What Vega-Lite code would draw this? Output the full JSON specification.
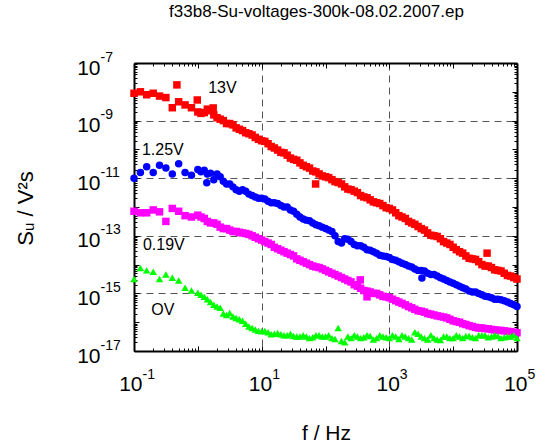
{
"$schema":"https://vega.github.io/schema/vega-lite/v6.json",
"width":383,"height":288,
"autosize":"none",
"padding":{"left":134,"top":63,"right":19,"bottom":91},
"background":"white",
"config":{"view":{"stroke":null},"font":"Liberation Sans","axis":{"labelFont":"Liberation Sans","titleFont":"Liberation Sans","labelColor":"black","titleColor":"black","domainColor":"black","tickColor":"black","titleFontWeight":"normal"}},
"title":{"text":"f33b8-Su-voltages-300k-08.02.2007.ep","fontSize":17,"font":"Liberation Sans","fontWeight":"normal","color":"black","anchor":"middle","frame":"group","dx":-9,"offset":16,"baseline":"alphabetic"},
"datasets":{
"lab":[{"f":1.45,"S":1.35e-8,"t":"13V"},{"f":0.133,"S":9.5e-11,"t":"1.25V"},{"f":0.138,"S":4.8e-14,"t":"0.19V"},{"f":0.186,"S":2.6e-16,"t":"OV"}],
"pts":[
{"f":0.1,"S":8.9e-9,"v":"13V"},{"f":0.126,"S":1e-8,"v":"13V"},{"f":0.158,"S":7.9e-9,"v":"13V"},{"f":0.2,"S":8.9e-9,"v":"13V"},{"f":0.251,"S":7.1e-9,"v":"13V"},{"f":0.316,"S":6.3e-9,"v":"13V"},{"f":0.398,"S":2.8e-9,"v":"13V"},{"f":0.501,"S":4.5e-9,"v":"13V"},{"f":0.631,"S":3.5e-9,"v":"13V"},{"f":0.794,"S":2.8e-9,"v":"13V"},
{"f":1,"S":2.0e-9,"v":"13V"},{"f":1.26,"S":1.9e-9,"v":"13V"},{"f":1.58,"S":2.2e-9,"v":"13V"},{"f":2,"S":1.26e-9,"v":"13V"},{"f":2.51,"S":1e-9,"v":"13V"},{"f":3.16,"S":7.9e-10,"v":"13V"},{"f":3.98,"S":5.6e-10,"v":"13V"},{"f":5.01,"S":4.5e-10,"v":"13V"},{"f":6.31,"S":3.5e-10,"v":"13V"},{"f":7.94,"S":2.6e-10,"v":"13V"},
{"f":10,"S":2.0e-10,"v":"13V"},{"f":12.6,"S":1.58e-10,"v":"13V"},{"f":15.8,"S":1.12e-10,"v":"13V"},{"f":20,"S":7.9e-11,"v":"13V"},{"f":25.1,"S":6.3e-11,"v":"13V"},{"f":31.6,"S":4.5e-11,"v":"13V"},{"f":39.8,"S":3.4e-11,"v":"13V"},{"f":50.1,"S":2.5e-11,"v":"13V"},{"f":63.1,"S":1.78e-11,"v":"13V"},{"f":79.4,"S":1.41e-11,"v":"13V"},
{"f":100,"S":1.12e-11,"v":"13V"},{"f":126,"S":8.9e-12,"v":"13V"},{"f":158,"S":7.1e-12,"v":"13V"},{"f":200,"S":5.0e-12,"v":"13V"},{"f":251,"S":4.0e-12,"v":"13V"},{"f":316,"S":3.16e-12,"v":"13V"},{"f":398,"S":2.24e-12,"v":"13V"},{"f":501,"S":1.78e-12,"v":"13V"},{"f":631,"S":1.41e-12,"v":"13V"},{"f":794,"S":1.12e-12,"v":"13V"},
{"f":1000,"S":8.9e-13,"v":"13V"},{"f":1260,"S":6.3e-13,"v":"13V"},{"f":1580,"S":4.5e-13,"v":"13V"},{"f":2000,"S":3.16e-13,"v":"13V"},{"f":2510,"S":2.5e-13,"v":"13V"},{"f":3160,"S":1.78e-13,"v":"13V"},{"f":3980,"S":1.26e-13,"v":"13V"},{"f":5010,"S":1e-13,"v":"13V"},{"f":6310,"S":7.9e-14,"v":"13V"},{"f":7940,"S":5.6e-14,"v":"13V"},
{"f":10000,"S":4.0e-14,"v":"13V"},{"f":12600,"S":2.8e-14,"v":"13V"},{"f":15800,"S":2.0e-14,"v":"13V"},{"f":20000,"S":1.58e-14,"v":"13V"},{"f":25100,"S":1.26e-14,"v":"13V"},{"f":31600,"S":8.9e-15,"v":"13V"},{"f":39800,"S":7.9e-15,"v":"13V"},{"f":50100,"S":6.3e-15,"v":"13V"},{"f":63100,"S":5.0e-15,"v":"13V"},{"f":79400,"S":4.0e-15,"v":"13V"},{"f":100000,"S":3.16e-15,"v":"13V"},
{"f":0.47,"S":1.74e-8,"v":"13V"},{"f":0.98,"S":5.2e-9,"v":"13V"},{"f":1.74,"S":2.75e-9,"v":"13V"},{"f":70,"S":6.3e-12,"v":"13V"},{"f":34000,"S":2.5e-14,"v":"13V"},
{"f":1.12,"S":1.78e-9,"v":"13V"},{"f":1.41,"S":2.5e-9,"v":"13V"},{"f":1.78,"S":1.58e-9,"v":"13V"},{"f":2.24,"S":1.12e-9,"v":"13V"},{"f":2.82,"S":7.9e-10,"v":"13V"},{"f":3.55,"S":7.1e-10,"v":"13V"},{"f":4.47,"S":5.0e-10,"v":"13V"},{"f":5.62,"S":3.8e-10,"v":"13V"},{"f":7.08,"S":3.16e-10,"v":"13V"},{"f":8.91,"S":2.24e-10,"v":"13V"},
{"f":11.2,"S":1.9e-10,"v":"13V"},{"f":14.1,"S":1.26e-10,"v":"13V"},{"f":17.8,"S":9.5e-11,"v":"13V"},{"f":22.4,"S":7.6e-11,"v":"13V"},{"f":28.2,"S":5.0e-11,"v":"13V"},{"f":35.5,"S":4.2e-11,"v":"13V"},{"f":44.7,"S":2.8e-11,"v":"13V"},{"f":56.2,"S":2.24e-11,"v":"13V"},{"f":70.8,"S":1.66e-11,"v":"13V"},{"f":89.1,"S":1.2e-11,"v":"13V"},
{"f":112,"S":1.05e-11,"v":"13V"},{"f":141,"S":7.6e-12,"v":"13V"},{"f":178,"S":6.3e-12,"v":"13V"},{"f":224,"S":4.2e-12,"v":"13V"},{"f":282,"S":3.55e-12,"v":"13V"},{"f":355,"S":2.5e-12,"v":"13V"},{"f":447,"S":2.1e-12,"v":"13V"},{"f":562,"S":1.51e-12,"v":"13V"},{"f":708,"S":1.32e-12,"v":"13V"},{"f":891,"S":9.5e-13,"v":"13V"},
{"f":1120,"S":7.9e-13,"v":"13V"},{"f":1410,"S":5.0e-13,"v":"13V"},{"f":1780,"S":4.0e-13,"v":"13V"},{"f":2240,"S":2.8e-13,"v":"13V"},{"f":2820,"S":2.1e-13,"v":"13V"},{"f":3550,"S":1.58e-13,"v":"13V"},{"f":4470,"S":1.05e-13,"v":"13V"},{"f":5620,"S":9.5e-14,"v":"13V"},{"f":7080,"S":6.3e-14,"v":"13V"},{"f":8910,"S":5.0e-14,"v":"13V"},
{"f":11200,"S":3.3e-14,"v":"13V"},{"f":14100,"S":2.5e-14,"v":"13V"},{"f":17800,"S":1.66e-14,"v":"13V"},{"f":22400,"S":1.51e-14,"v":"13V"},{"f":28200,"S":1e-14,"v":"13V"},{"f":35500,"S":8.9e-15,"v":"13V"},{"f":44700,"S":6.6e-15,"v":"13V"},{"f":56200,"S":6.0e-15,"v":"13V"},{"f":70800,"S":4.2e-15,"v":"13V"},{"f":89100,"S":3.55e-15,"v":"13V"},
{"f":0.1,"S":1e-11,"v":"1.25V"},{"f":0.126,"S":1.58e-11,"v":"1.25V"},{"f":0.158,"S":2.5e-11,"v":"1.25V"},{"f":0.2,"S":1.58e-11,"v":"1.25V"},{"f":0.251,"S":2.8e-11,"v":"1.25V"},{"f":0.316,"S":2.24e-11,"v":"1.25V"},{"f":0.398,"S":1.41e-11,"v":"1.25V"},{"f":0.501,"S":3.16e-11,"v":"1.25V"},{"f":0.631,"S":1.58e-11,"v":"1.25V"},{"f":0.794,"S":1.26e-11,"v":"1.25V"},
{"f":1,"S":2.0e-11,"v":"1.25V"},{"f":1.26,"S":1.9e-11,"v":"1.25V"},{"f":1.38,"S":6.9e-12,"v":"1.25V"},{"f":1.58,"S":1.5e-11,"v":"1.25V"},{"f":2,"S":1.41e-11,"v":"1.25V"},{"f":2.51,"S":7.9e-12,"v":"1.25V"},{"f":3.16,"S":6.3e-12,"v":"1.25V"},{"f":3.98,"S":4.0e-12,"v":"1.25V"},{"f":5.01,"S":4.0e-12,"v":"1.25V"},{"f":6.31,"S":2.8e-12,"v":"1.25V"},{"f":7.94,"S":2.24e-12,"v":"1.25V"},
{"f":10,"S":2.0e-12,"v":"1.25V"},{"f":12.6,"S":1.58e-12,"v":"1.25V"},{"f":15.8,"S":1.41e-12,"v":"1.25V"},{"f":20,"S":1.12e-12,"v":"1.25V"},{"f":25.1,"S":1e-12,"v":"1.25V"},{"f":31.6,"S":7.1e-13,"v":"1.25V"},{"f":39.8,"S":4.5e-13,"v":"1.25V"},{"f":50.1,"S":3.5e-13,"v":"1.25V"},{"f":63.1,"S":2.8e-13,"v":"1.25V"},{"f":79.4,"S":2.24e-13,"v":"1.25V"},
{"f":100,"S":1.78e-13,"v":"1.25V"},{"f":126,"S":1.41e-13,"v":"1.25V"},{"f":158,"S":6.3e-14,"v":"1.25V"},{"f":200,"S":7.9e-14,"v":"1.25V"},{"f":251,"S":6.3e-14,"v":"1.25V"},{"f":316,"S":4.5e-14,"v":"1.25V"},{"f":398,"S":4.0e-14,"v":"1.25V"},{"f":501,"S":3.16e-14,"v":"1.25V"},{"f":631,"S":2.5e-14,"v":"1.25V"},{"f":794,"S":2.0e-14,"v":"1.25V"},
{"f":1000,"S":1.78e-14,"v":"1.25V"},{"f":1260,"S":1.41e-14,"v":"1.25V"},{"f":1580,"S":1.12e-14,"v":"1.25V"},{"f":2000,"S":8.9e-15,"v":"1.25V"},{"f":2510,"S":7.1e-15,"v":"1.25V"},{"f":3160,"S":6.3e-15,"v":"1.25V"},{"f":3240,"S":3.4e-15,"v":"1.25V"},{"f":3980,"S":5.0e-15,"v":"1.25V"},{"f":5010,"S":4.5e-15,"v":"1.25V"},{"f":6310,"S":3.5e-15,"v":"1.25V"},{"f":7940,"S":2.8e-15,"v":"1.25V"},
{"f":10000,"S":2.24e-15,"v":"1.25V"},{"f":12600,"S":1.78e-15,"v":"1.25V"},{"f":15800,"S":1.41e-15,"v":"1.25V"},{"f":20000,"S":1.12e-15,"v":"1.25V"},{"f":25100,"S":1e-15,"v":"1.25V"},{"f":31600,"S":7.9e-16,"v":"1.25V"},{"f":39800,"S":7.1e-16,"v":"1.25V"},{"f":50100,"S":6.3e-16,"v":"1.25V"},{"f":63100,"S":5.6e-16,"v":"1.25V"},{"f":79400,"S":4.5e-16,"v":"1.25V"},{"f":100000,"S":3.5e-16,"v":"1.25V"},
{"f":1.12,"S":1.66e-11,"v":"1.25V"},{"f":1.41,"S":1.41e-11,"v":"1.25V"},{"f":1.78,"S":8.9e-12,"v":"1.25V"},{"f":2.24,"S":1.12e-11,"v":"1.25V"},{"f":2.82,"S":6.3e-12,"v":"1.25V"},{"f":3.55,"S":5.0e-12,"v":"1.25V"},{"f":4.47,"S":3.55e-12,"v":"1.25V"},{"f":5.62,"S":3.55e-12,"v":"1.25V"},{"f":7.08,"S":2.5e-12,"v":"1.25V"},{"f":8.91,"S":2.0e-12,"v":"1.25V"},
{"f":11.2,"S":1.9e-12,"v":"1.25V"},{"f":14.1,"S":1.41e-12,"v":"1.25V"},{"f":17.8,"S":1.32e-12,"v":"1.25V"},{"f":22.4,"S":1e-12,"v":"1.25V"},{"f":28.2,"S":7.9e-13,"v":"1.25V"},{"f":35.5,"S":5.6e-13,"v":"1.25V"},{"f":44.7,"S":3.8e-13,"v":"1.25V"},{"f":56.2,"S":3.3e-13,"v":"1.25V"},{"f":70.8,"S":2.4e-13,"v":"1.25V"},{"f":89.1,"S":2.0e-13,"v":"1.25V"},
{"f":112,"S":1.58e-13,"v":"1.25V"},{"f":141,"S":1e-13,"v":"1.25V"},{"f":178,"S":5.6e-14,"v":"1.25V"},{"f":224,"S":7.6e-14,"v":"1.25V"},{"f":282,"S":5.0e-14,"v":"1.25V"},{"f":355,"S":4.5e-14,"v":"1.25V"},{"f":447,"S":3.3e-14,"v":"1.25V"},{"f":562,"S":2.8e-14,"v":"1.25V"},{"f":708,"S":2.1e-14,"v":"1.25V"},{"f":891,"S":1.9e-14,"v":"1.25V"},
{"f":1120,"S":1.51e-14,"v":"1.25V"},{"f":1410,"S":1.26e-14,"v":"1.25V"},{"f":1780,"S":1e-14,"v":"1.25V"},{"f":2240,"S":8.3e-15,"v":"1.25V"},{"f":2820,"S":6.3e-15,"v":"1.25V"},{"f":3550,"S":6.0e-15,"v":"1.25V"},{"f":4470,"S":4.5e-15,"v":"1.25V"},{"f":5620,"S":4.0e-15,"v":"1.25V"},{"f":7080,"S":3.16e-15,"v":"1.25V"},{"f":8910,"S":2.5e-15,"v":"1.25V"},
{"f":11200,"S":2.0e-15,"v":"1.25V"},{"f":14100,"S":1.58e-15,"v":"1.25V"},{"f":17800,"S":1.2e-15,"v":"1.25V"},{"f":22400,"S":1.12e-15,"v":"1.25V"},{"f":28200,"S":8.9e-16,"v":"1.25V"},{"f":35500,"S":7.6e-16,"v":"1.25V"},{"f":44700,"S":6.3e-16,"v":"1.25V"},{"f":56200,"S":6.0e-16,"v":"1.25V"},{"f":70800,"S":5.0e-16,"v":"1.25V"},{"f":89100,"S":4.0e-16,"v":"1.25V"},
{"f":0.1,"S":7.1e-13,"v":"0.19V"},{"f":0.126,"S":6.3e-13,"v":"0.19V"},{"f":0.158,"S":6.3e-13,"v":"0.19V"},{"f":0.2,"S":7.9e-13,"v":"0.19V"},{"f":0.251,"S":6.8e-13,"v":"0.19V"},{"f":0.316,"S":3.16e-13,"v":"0.19V"},{"f":0.398,"S":8.9e-13,"v":"0.19V"},{"f":0.501,"S":7.1e-13,"v":"0.19V"},{"f":0.631,"S":5.0e-13,"v":"0.19V"},{"f":0.794,"S":4.5e-13,"v":"0.19V"},
{"f":1,"S":5.2e-13,"v":"0.19V"},{"f":1.26,"S":4.0e-13,"v":"0.19V"},{"f":1.58,"S":2.8e-13,"v":"0.19V"},{"f":2,"S":2.5e-13,"v":"0.19V"},{"f":2.51,"S":1.78e-13,"v":"0.19V"},{"f":3.16,"S":1.58e-13,"v":"0.19V"},{"f":3.98,"S":1.41e-13,"v":"0.19V"},{"f":5.01,"S":1.26e-13,"v":"0.19V"},{"f":6.31,"S":1.12e-13,"v":"0.19V"},{"f":7.94,"S":8.9e-14,"v":"0.19V"},
{"f":10,"S":7.1e-14,"v":"0.19V"},{"f":12.6,"S":5.6e-14,"v":"0.19V"},{"f":15.8,"S":4.0e-14,"v":"0.19V"},{"f":20,"S":3.16e-14,"v":"0.19V"},{"f":25.1,"S":2.5e-14,"v":"0.19V"},{"f":31.6,"S":2.0e-14,"v":"0.19V"},{"f":39.8,"S":1.41e-14,"v":"0.19V"},{"f":50.1,"S":1.12e-14,"v":"0.19V"},{"f":63.1,"S":8.9e-15,"v":"0.19V"},{"f":79.4,"S":7.9e-15,"v":"0.19V"},
{"f":100,"S":6.3e-15,"v":"0.19V"},{"f":126,"S":5.0e-15,"v":"0.19V"},{"f":158,"S":4.0e-15,"v":"0.19V"},{"f":200,"S":3.16e-15,"v":"0.19V"},{"f":251,"S":2.5e-15,"v":"0.19V"},{"f":316,"S":1.78e-15,"v":"0.19V"},{"f":350,"S":2.95e-15,"v":"0.19V"},{"f":398,"S":1.26e-15,"v":"0.19V"},{"f":447,"S":7.6e-16,"v":"0.19V"},{"f":501,"S":1.12e-15,"v":"0.19V"},{"f":631,"S":1e-15,"v":"0.19V"},{"f":794,"S":7.9e-16,"v":"0.19V"},
{"f":1000,"S":7.1e-16,"v":"0.19V"},{"f":1260,"S":5.6e-16,"v":"0.19V"},{"f":1580,"S":4.5e-16,"v":"0.19V"},{"f":2000,"S":3.5e-16,"v":"0.19V"},{"f":2510,"S":2.8e-16,"v":"0.19V"},{"f":3160,"S":2.4e-16,"v":"0.19V"},{"f":3980,"S":2.0e-16,"v":"0.19V"},{"f":5010,"S":1.78e-16,"v":"0.19V"},{"f":6310,"S":1.58e-16,"v":"0.19V"},{"f":7940,"S":1.41e-16,"v":"0.19V"},
{"f":10000,"S":1.12e-16,"v":"0.19V"},{"f":12600,"S":1e-16,"v":"0.19V"},{"f":15800,"S":8.3e-17,"v":"0.19V"},{"f":20000,"S":7.1e-17,"v":"0.19V"},{"f":25100,"S":6.3e-17,"v":"0.19V"},{"f":31600,"S":6.0e-17,"v":"0.19V"},{"f":39800,"S":5.6e-17,"v":"0.19V"},{"f":50100,"S":5.2e-17,"v":"0.19V"},{"f":63100,"S":5.0e-17,"v":"0.19V"},{"f":79400,"S":4.7e-17,"v":"0.19V"},{"f":100000,"S":4.3e-17,"v":"0.19V"},
{"f":1.12,"S":4.5e-13,"v":"0.19V"},{"f":1.41,"S":3.16e-13,"v":"0.19V"},{"f":1.78,"S":2.8e-13,"v":"0.19V"},{"f":2.24,"S":2.0e-13,"v":"0.19V"},{"f":2.82,"S":1.78e-13,"v":"0.19V"},{"f":3.55,"S":1.41e-13,"v":"0.19V"},{"f":4.47,"S":1.32e-13,"v":"0.19V"},{"f":5.62,"S":1.2e-13,"v":"0.19V"},{"f":7.08,"S":1e-13,"v":"0.19V"},{"f":8.91,"S":7.9e-14,"v":"0.19V"},
{"f":11.2,"S":6.3e-14,"v":"0.19V"},{"f":14.1,"S":5.0e-14,"v":"0.19V"},{"f":17.8,"S":3.55e-14,"v":"0.19V"},{"f":22.4,"S":2.8e-14,"v":"0.19V"},{"f":28.2,"S":2.24e-14,"v":"0.19V"},{"f":35.5,"S":1.58e-14,"v":"0.19V"},{"f":44.7,"S":1.26e-14,"v":"0.19V"},{"f":56.2,"S":1e-14,"v":"0.19V"},{"f":70.8,"S":8.3e-15,"v":"0.19V"},{"f":89.1,"S":7.1e-15,"v":"0.19V"},
{"f":112,"S":5.6e-15,"v":"0.19V"},{"f":141,"S":4.5e-15,"v":"0.19V"},{"f":178,"S":3.55e-15,"v":"0.19V"},{"f":224,"S":2.8e-15,"v":"0.19V"},{"f":282,"S":2.0e-15,"v":"0.19V"},{"f":355,"S":1.51e-15,"v":"0.19V"},{"f":447,"S":1.2e-15,"v":"0.19V"},{"f":562,"S":1e-15,"v":"0.19V"},{"f":708,"S":8.9e-16,"v":"0.19V"},{"f":891,"S":7.6e-16,"v":"0.19V"},
{"f":1120,"S":6.3e-16,"v":"0.19V"},{"f":1410,"S":5.0e-16,"v":"0.19V"},{"f":1780,"S":4.0e-16,"v":"0.19V"},{"f":2240,"S":3.16e-16,"v":"0.19V"},{"f":2820,"S":2.5e-16,"v":"0.19V"},{"f":3550,"S":2.24e-16,"v":"0.19V"},{"f":4470,"S":1.9e-16,"v":"0.19V"},{"f":5620,"S":1.66e-16,"v":"0.19V"},{"f":7080,"S":1.51e-16,"v":"0.19V"},{"f":8910,"S":1.26e-16,"v":"0.19V"},
{"f":11200,"S":1.05e-16,"v":"0.19V"},{"f":14100,"S":8.9e-17,"v":"0.19V"},{"f":17800,"S":7.6e-17,"v":"0.19V"},{"f":22400,"S":6.6e-17,"v":"0.19V"},{"f":28200,"S":6.3e-17,"v":"0.19V"},{"f":35500,"S":5.9e-17,"v":"0.19V"},{"f":44700,"S":5.4e-17,"v":"0.19V"},{"f":56200,"S":5.2e-17,"v":"0.19V"},{"f":70800,"S":4.8e-17,"v":"0.19V"},{"f":89100,"S":4.5e-17,"v":"0.19V"},
{"f":0.1,"S":3.16e-15,"v":"0V"},{"f":0.126,"S":7.6e-15,"v":"0V"},{"f":0.158,"S":6.3e-15,"v":"0V"},{"f":0.2,"S":5.6e-15,"v":"0V"},{"f":0.251,"S":3.16e-15,"v":"0V"},{"f":0.316,"S":4.5e-15,"v":"0V"},{"f":0.398,"S":3.5e-15,"v":"0V"},{"f":0.501,"S":2.8e-15,"v":"0V"},{"f":0.631,"S":1.58e-15,"v":"0V"},{"f":0.794,"S":1.26e-15,"v":"0V"},
{"f":1,"S":1.05e-15,"v":"0V"},{"f":1.26,"S":7.6e-16,"v":"0V"},{"f":1.58,"S":5.0e-16,"v":"0V"},{"f":2,"S":3.5e-16,"v":"0V"},{"f":2.51,"S":2.0e-16,"v":"0V"},{"f":3.16,"S":2.1e-16,"v":"0V"},{"f":3.98,"S":1.41e-16,"v":"0V"},{"f":5.01,"S":1.12e-16,"v":"0V"},{"f":6.31,"S":7.1e-17,"v":"0V"},{"f":7.94,"S":5.6e-17,"v":"0V"},
{"f":10,"S":4.8e-17,"v":"0V"},{"f":12.6,"S":4.5e-17,"v":"0V"},{"f":15.8,"S":4.0e-17,"v":"0V"},{"f":20,"S":3.8e-17,"v":"0V"},{"f":25.1,"S":3.5e-17,"v":"0V"},{"f":31.6,"S":3.3e-17,"v":"0V"},{"f":39.8,"S":3.16e-17,"v":"0V"},{"f":50.1,"S":3.16e-17,"v":"0V"},{"f":63.1,"S":3.0e-17,"v":"0V"},{"f":79.4,"S":3.5e-17,"v":"0V"},
{"f":100,"S":3.16e-17,"v":"0V"},{"f":126,"S":2.8e-17,"v":"0V"},{"f":158,"S":6.3e-17,"v":"0V"},{"f":200,"S":2.0e-17,"v":"0V"},{"f":251,"S":2.8e-17,"v":"0V"},{"f":316,"S":3.16e-17,"v":"0V"},{"f":398,"S":3.0e-17,"v":"0V"},{"f":501,"S":3.3e-17,"v":"0V"},{"f":631,"S":2.8e-17,"v":"0V"},{"f":794,"S":3.16e-17,"v":"0V"},
{"f":1000,"S":2.8e-17,"v":"0V"},{"f":1260,"S":3.16e-17,"v":"0V"},{"f":1580,"S":3.5e-17,"v":"0V"},{"f":2000,"S":2.8e-17,"v":"0V"},{"f":2510,"S":4.5e-17,"v":"0V"},{"f":3160,"S":3.16e-17,"v":"0V"},{"f":3980,"S":2.5e-17,"v":"0V"},{"f":5010,"S":2.8e-17,"v":"0V"},{"f":6310,"S":2.4e-17,"v":"0V"},{"f":7940,"S":3.16e-17,"v":"0V"},
{"f":10000,"S":2.8e-17,"v":"0V"},{"f":12600,"S":3.16e-17,"v":"0V"},{"f":15800,"S":3.3e-17,"v":"0V"},{"f":20000,"S":3.0e-17,"v":"0V"},{"f":25100,"S":3.5e-17,"v":"0V"},{"f":31600,"S":3.5e-17,"v":"0V"},{"f":39800,"S":3.16e-17,"v":"0V"},{"f":50100,"S":3.3e-17,"v":"0V"},{"f":63100,"S":3.0e-17,"v":"0V"},{"f":79400,"S":3.16e-17,"v":"0V"},{"f":100000,"S":2.8e-17,"v":"0V"},
{"f":1.12,"S":8.9e-16,"v":"0V"},{"f":1.41,"S":6.3e-16,"v":"0V"},{"f":1.78,"S":4.0e-16,"v":"0V"},{"f":2.24,"S":3.16e-16,"v":"0V"},{"f":2.82,"S":1.78e-16,"v":"0V"},{"f":3.55,"S":1.58e-16,"v":"0V"},{"f":4.47,"S":1.26e-16,"v":"0V"},{"f":5.62,"S":8.9e-17,"v":"0V"},{"f":7.08,"S":6.3e-17,"v":"0V"},{"f":8.91,"S":5.0e-17,"v":"0V"},
{"f":11.2,"S":5.0e-17,"v":"0V"},{"f":14.1,"S":3.8e-17,"v":"0V"},{"f":17.8,"S":4.2e-17,"v":"0V"},{"f":22.4,"S":3.55e-17,"v":"0V"},{"f":28.2,"S":4.0e-17,"v":"0V"},{"f":35.5,"S":3.16e-17,"v":"0V"},{"f":44.7,"S":3.55e-17,"v":"0V"},{"f":56.2,"S":2.8e-17,"v":"0V"},{"f":70.8,"S":3.55e-17,"v":"0V"},{"f":89.1,"S":3.16e-17,"v":"0V"},
{"f":112,"S":3.55e-17,"v":"0V"},{"f":141,"S":2.6e-17,"v":"0V"},{"f":178,"S":2.24e-17,"v":"0V"},{"f":224,"S":3.16e-17,"v":"0V"},{"f":282,"S":3.55e-17,"v":"0V"},{"f":355,"S":2.8e-17,"v":"0V"},{"f":447,"S":3.55e-17,"v":"0V"},{"f":562,"S":2.5e-17,"v":"0V"},{"f":708,"S":3.55e-17,"v":"0V"},{"f":891,"S":3.0e-17,"v":"0V"},
{"f":1120,"S":3.55e-17,"v":"0V"},{"f":1410,"S":2.6e-17,"v":"0V"},{"f":1780,"S":3.16e-17,"v":"0V"},{"f":2240,"S":2.5e-17,"v":"0V"},{"f":2820,"S":4.0e-17,"v":"0V"},{"f":3550,"S":2.8e-17,"v":"0V"},{"f":4470,"S":3.55e-17,"v":"0V"},{"f":5620,"S":2.5e-17,"v":"0V"},{"f":7080,"S":3.16e-17,"v":"0V"},{"f":8910,"S":2.8e-17,"v":"0V"},
{"f":11200,"S":3.55e-17,"v":"0V"},{"f":14100,"S":2.8e-17,"v":"0V"},{"f":17800,"S":3.3e-17,"v":"0V"},{"f":22400,"S":2.8e-17,"v":"0V"},{"f":28200,"S":3.55e-17,"v":"0V"},{"f":35500,"S":3.0e-17,"v":"0V"},{"f":44700,"S":3.55e-17,"v":"0V"},{"f":56200,"S":2.8e-17,"v":"0V"},{"f":70800,"S":3.16e-17,"v":"0V"},{"f":89100,"S":3.55e-17,"v":"0V"}
]},
"resolve":{"axis":{"x":"independent","y":"independent"}},
"layer":[
{"data":{"name":"pts"},
 "mark":{"type":"point","filled":true,"opacity":1,"strokeWidth":0,"size":56},
 "encoding":{
  "x":{"field":"f","type":"quantitative","scale":{"type":"log","domain":[0.1,100000],"nice":false},
   "axis":{"orient":"bottom","values":[0.1,0.2,0.3,0.4,0.5,0.6,0.7,0.8,0.9,1,2,3,4,5,6,7,8,9,10,20,30,40,50,60,70,80,90,100,200,300,400,500,600,700,800,900,1000,2000,3000,4000,5000,6000,7000,8000,9000,10000,20000,30000,40000,50000,60000,70000,80000,90000,100000],
    "labels":false,"title":null,"domain":true,"domainWidth":2,"domainColor":"black","ticks":true,"tickWidth":1,"tickColor":"black",
    "tickSize":{"condition":{"test":"abs(log(datum.value)/LN10-round(log(datum.value)/LN10))<0.001","value":-5},"value":-3},
    "grid":true,"gridColor":"#555555","gridDash":[7,5],"gridWidth":1,
    "gridOpacity":{"condition":{"test":"datum.value==10||datum.value==1000","value":1},"value":0}}},
  "y":{"field":"S","type":"quantitative","scale":{"type":"log","domain":[1e-17,1e-7],"nice":false},
   "axis":{"orient":"left","values":[1e-17,2e-17,3e-17,4e-17,5e-17,6e-17,7e-17,8e-17,9e-17,1e-16,2e-16,3e-16,4e-16,5e-16,6e-16,7e-16,8e-16,9e-16,1e-15,2e-15,3e-15,4e-15,5e-15,6e-15,7e-15,8e-15,9e-15,1e-14,2e-14,3e-14,4e-14,5e-14,6e-14,7e-14,8e-14,9e-14,1e-13,2e-13,3e-13,4e-13,5e-13,6e-13,7e-13,8e-13,9e-13,1e-12,2e-12,3e-12,4e-12,5e-12,6e-12,7e-12,8e-12,9e-12,1e-11,2e-11,3e-11,4e-11,5e-11,6e-11,7e-11,8e-11,9e-11,1e-10,2e-10,3e-10,4e-10,5e-10,6e-10,7e-10,8e-10,9e-10,1e-9,2e-9,3e-9,4e-9,5e-9,6e-9,7e-9,8e-9,9e-9,1e-8,2e-8,3e-8,4e-8,5e-8,6e-8,7e-8,8e-8,9e-8,1e-7],
    "labels":false,"title":null,"domain":true,"domainWidth":2,"domainColor":"black","ticks":true,"tickWidth":1,"tickColor":"black",
    "tickSize":{"condition":{"test":"abs(log(datum.value)/LN10-round(log(datum.value)/LN10))<0.001","value":-5},"value":-3},
    "grid":true,"gridColor":"#555555","gridDash":[7,5],"gridWidth":1,
    "gridOpacity":{"condition":{"test":"abs(log(datum.value)/LN10+9)<0.001||abs(log(datum.value)/LN10+11)<0.001||abs(log(datum.value)/LN10+13)<0.001||abs(log(datum.value)/LN10+15)<0.001","value":1},"value":0}}},
  "color":{"field":"v","type":"nominal","scale":{"domain":["13V","1.25V","0.19V","0V"],"range":["#ff0000","#0000ff","#ff00ff","#00ff00"]},"legend":null},
  "shape":{"field":"v","type":"nominal","scale":{"domain":["13V","1.25V","0.19V","0V"],"range":["square","circle","square","triangle-up"]},"legend":null}
 }},
{"data":{"name":"lab"},
 "mark":{"type":"text","align":"left","baseline":"middle","fontSize":16,"font":"Liberation Sans","color":"black"},
 "encoding":{
  "text":{"field":"t"},
  "x":{"field":"f","type":"quantitative","scale":{"type":"log","domain":[0.1,100000],"nice":false},
   "axis":{"orient":"bottom","values":[0.1,10,1000,100000],"labelExpr":"'10'","labelFontSize":21,"labelAlign":"right","labelBaseline":"alphabetic","labelPadding":39,"tickSize":0,"ticks":false,"domain":false,"grid":false,
    "labelOffset":{"condition":{"test":"datum.value<1","value":8},"value":10},"labelOverlap":false,"labelBound":false,"labelFlush":false,
    "title":"f / Hz","titleFontSize":21,"titleX":192,"titleY":88,"titleAlign":"center","titleBaseline":"alphabetic"}},
  "y":{"field":"S","type":"quantitative","scale":{"type":"log","domain":[1e-17,1e-7],"nice":false},
   "axis":{"orient":"left","values":[1e-17,1e-15,1e-13,1e-11,1e-9,1e-7],"labelExpr":"'10'","labelFontSize":21,"labelAlign":"right","labelBaseline":"alphabetic","labelPadding":34,"labelOffset":11,"tickSize":0,"ticks":false,"domain":false,"grid":false,"labelOverlap":false,"labelBound":false,"labelFlush":false,
    "title":"Sᵤ / V²s","titleFontSize":22,"titleX":-102,"titleY":145,"titleAlign":"center","titleBaseline":"alphabetic","titleAngle":270}}
 }},
{"data":{"name":"lab"},
 "mark":{"type":"point","opacity":0},
 "encoding":{
  "x":{"field":"f","type":"quantitative","scale":{"type":"log","domain":[0.1,100000],"nice":false},
   "axis":{"orient":"bottom","values":[0.1,10,1000,100000],"labelExpr":"datum.value<1?'-1':datum.value<100?'1':datum.value<10000?'3':'5'","labelFontSize":14,"labelAlign":"left","labelBaseline":"alphabetic","labelPadding":27,"tickSize":0,"ticks":false,"domain":false,"grid":false,
    "labelOffset":{"condition":{"test":"datum.value<1","value":8},"value":10},"labelOverlap":false,"labelBound":false,"labelFlush":false,"title":null}},
  "y":{"field":"S","type":"quantitative","scale":{"type":"log","domain":[1e-17,1e-7],"nice":false},
   "axis":{"orient":"left","values":[1e-17,1e-15,1e-13,1e-11,1e-9,1e-7],"labelExpr":"datum.value<1e-16?'-17':datum.value<1e-14?'-15':datum.value<1e-12?'-13':datum.value<1e-10?'-11':datum.value<1e-8?'-9':'-7'","labelFontSize":14,"labelAlign":"left","labelBaseline":"alphabetic","labelPadding":34,"labelOffset":-2,"tickSize":0,"ticks":false,"domain":false,"grid":false,"labelOverlap":false,"labelBound":false,"labelFlush":false,"title":null}}
 }},
{"data":{"name":"lab"},
 "mark":{"type":"point","opacity":0},
 "encoding":{
  "x":{"field":"f","type":"quantitative","scale":{"type":"log","domain":[0.1,100000],"nice":false},
   "axis":{"orient":"top","values":[0.1,0.2,0.3,0.4,0.5,0.6,0.7,0.8,0.9,1,2,3,4,5,6,7,8,9,10,20,30,40,50,60,70,80,90,100,200,300,400,500,600,700,800,900,1000,2000,3000,4000,5000,6000,7000,8000,9000,10000,20000,30000,40000,50000,60000,70000,80000,90000,100000],
    "labels":false,"title":null,"domain":true,"domainWidth":2,"domainColor":"black","ticks":true,"tickWidth":1,"tickColor":"black",
    "tickSize":{"condition":{"test":"abs(log(datum.value)/LN10-round(log(datum.value)/LN10))<0.001","value":-5},"value":-3},"grid":false}},
  "y":{"field":"S","type":"quantitative","scale":{"type":"log","domain":[1e-17,1e-7],"nice":false},
   "axis":{"orient":"right","values":[1e-17,2e-17,3e-17,4e-17,5e-17,6e-17,7e-17,8e-17,9e-17,1e-16,2e-16,3e-16,4e-16,5e-16,6e-16,7e-16,8e-16,9e-16,1e-15,2e-15,3e-15,4e-15,5e-15,6e-15,7e-15,8e-15,9e-15,1e-14,2e-14,3e-14,4e-14,5e-14,6e-14,7e-14,8e-14,9e-14,1e-13,2e-13,3e-13,4e-13,5e-13,6e-13,7e-13,8e-13,9e-13,1e-12,2e-12,3e-12,4e-12,5e-12,6e-12,7e-12,8e-12,9e-12,1e-11,2e-11,3e-11,4e-11,5e-11,6e-11,7e-11,8e-11,9e-11,1e-10,2e-10,3e-10,4e-10,5e-10,6e-10,7e-10,8e-10,9e-10,1e-9,2e-9,3e-9,4e-9,5e-9,6e-9,7e-9,8e-9,9e-9,1e-8,2e-8,3e-8,4e-8,5e-8,6e-8,7e-8,8e-8,9e-8,1e-7],
    "labels":false,"title":null,"domain":true,"domainWidth":2,"domainColor":"black","ticks":true,"tickWidth":1,"tickColor":"black",
    "tickSize":{"condition":{"test":"abs(log(datum.value)/LN10-round(log(datum.value)/LN10))<0.001","value":-5},"value":-3},"grid":false}}
 }}
]
}
